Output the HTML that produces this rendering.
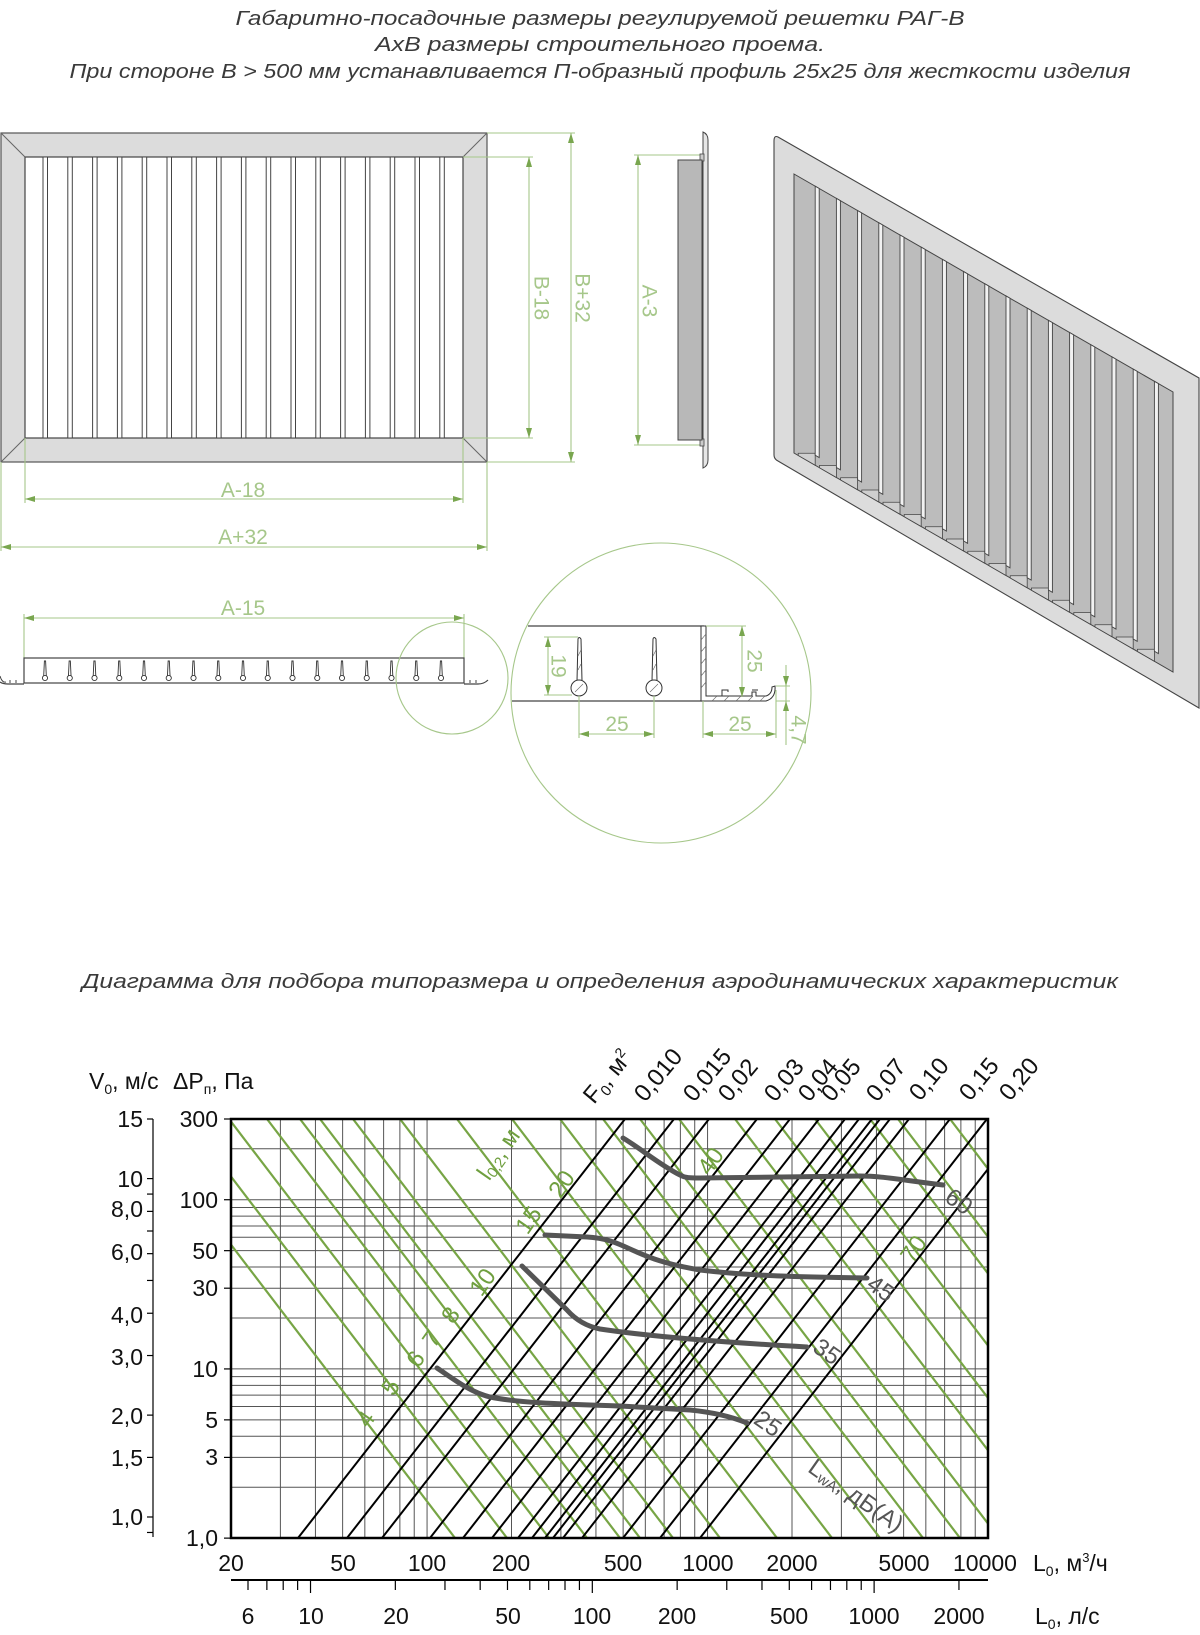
<!DOCTYPE html>
<html><head><meta charset="utf-8">
<style>
html,body{margin:0;padding:0;background:#fff;}
svg{display:block;}
.ti{font-family:"Liberation Sans",sans-serif;font-style:italic;fill:#3a3a3a;font-size:20px;}
.dm{font-family:"Liberation Sans",sans-serif;fill:#a6c78a;font-size:21px;}
.ax{font-family:"Liberation Sans",sans-serif;fill:#111;font-size:23px;}
.fa{font-family:"Liberation Sans",sans-serif;fill:#111;font-size:24px;}
.gr{font-family:"Liberation Sans",sans-serif;fill:#6f9f3f;font-size:24px;}
.gy{font-family:"Liberation Sans",sans-serif;fill:#555;font-size:24px;}
</style></head>
<body>
<svg id="s" width="1200" height="1635" viewBox="0 0 1200 1635" xmlns="http://www.w3.org/2000/svg">
<defs>
<marker id="ar" viewBox="0 0 10 6" refX="10" refY="3" markerWidth="10" markerHeight="6" orient="auto-start-reverse" markerUnits="userSpaceOnUse">
<path d="M0,0 L10,3 L0,6 z" fill="#79a64f"/></marker>
<clipPath id="box"><rect x="231" y="1119" width="757" height="419"/></clipPath>
</defs>

<text class="ti" x="600" y="25" text-anchor="middle" textLength="729" lengthAdjust="spacingAndGlyphs">Габаритно-посадочные размеры регулируемой решетки РАГ-В</text>
<text class="ti" x="600" y="51" text-anchor="middle" textLength="450" lengthAdjust="spacingAndGlyphs">АхВ размеры строительного проема.</text>
<text class="ti" x="600" y="78" text-anchor="middle" textLength="1061" lengthAdjust="spacingAndGlyphs">При стороне В &gt; 500 мм устанавливается П-образный профиль 25х25 для жесткости изделия</text>
<text class="ti" x="600" y="988" text-anchor="middle" textLength="1036" lengthAdjust="spacingAndGlyphs">Диаграмма для подбора типоразмера и определения аэродинамических характеристик</text>

<rect x="1" y="133" width="486" height="329" fill="#dcdcdc" stroke="#555" stroke-width="1.2"/>
<rect x="25" y="157" width="438" height="281" fill="#fff" stroke="#444" stroke-width="1.2"/>
<path d="M1,133 L25,157 M487,133 L463,157 M1,462 L25,438 M487,462 L463,438" stroke="#666" stroke-width="1"/>
<g id="fslats"></g>
<g stroke="#a6c78a" stroke-width="1.1" fill="none">
<path d="M463,157 H533 M463,438 H533 M487,133 H575 M487,462 H575 M25,438 V503 M463,438 V503 M1,462 V551 M487,462 V551"/>
<line x1="529" y1="157" x2="529" y2="438" marker-start="url(#ar)" marker-end="url(#ar)"/>
<line x1="571" y1="133" x2="571" y2="462" marker-start="url(#ar)" marker-end="url(#ar)"/>
<line x1="25" y1="499" x2="463" y2="499" marker-start="url(#ar)" marker-end="url(#ar)"/>
<line x1="1" y1="547" x2="487" y2="547" marker-start="url(#ar)" marker-end="url(#ar)"/>
<path d="M700,155 H634 M700,445 H634"/>
<line x1="638" y1="155" x2="638" y2="445" marker-start="url(#ar)" marker-end="url(#ar)"/>
<path d="M24,658 V614 M464,658 V614"/>
<line x1="24" y1="618" x2="464" y2="618" marker-start="url(#ar)" marker-end="url(#ar)"/>
</g>
<text class="dm" transform="translate(540,298) rotate(90)" text-anchor="middle" dominant-baseline="middle">B-18</text>
<text class="dm" transform="translate(581,298) rotate(90)" text-anchor="middle" dominant-baseline="middle">B+32</text>
<text class="dm" transform="translate(648,301) rotate(90)" text-anchor="middle" dominant-baseline="middle">A-3</text>
<text class="dm" x="243" y="497" text-anchor="middle">A-18</text>
<text class="dm" x="243" y="544" text-anchor="middle">A+32</text>
<text class="dm" x="243" y="615" text-anchor="middle">A-15</text>

<path d="M703,132 Q708,134 708,140 V460 Q708,466 703,468 Z" fill="#e6e6e6" stroke="#444" stroke-width="1"/>
<rect x="700" y="154" width="4" height="7" fill="#ccc" stroke="#444" stroke-width="0.8"/>
<rect x="700" y="439" width="4" height="7" fill="#ccc" stroke="#444" stroke-width="0.8"/>
<rect x="678" y="160" width="24" height="280" fill="#b8b8b8" stroke="#444" stroke-width="1"/>

<path d="M778,137 L1199,378 L1199,708 L778,461 Q774,459 774,455 V141 Q774,135 778,137 Z" fill="#dcdcdc" stroke="#444" stroke-width="1.1"/>
<path d="M794,174 L1173,392 L1173,672 L794,453 Z" fill="#bcbcbc" stroke="#444" stroke-width="1"/>
<g id="pslats"></g>

<rect x="24" y="658" width="440" height="25" fill="#fff" stroke="#444" stroke-width="1.2"/>
<path d="M0,682 Q3,684 8,684 H24 M464,684 H478 Q484,684 488,680" stroke="#444" stroke-width="1.2" fill="none"/>
<path d="M0,676 Q2,683 6,682 M10,680 V683 M16,680 V683 M470,680 V683 M476,680 V683" stroke="#444" stroke-width="1" fill="none"/>
<g id="pfins"></g>
<circle cx="452" cy="678" r="56" fill="none" stroke="#a6c78a" stroke-width="1.1"/>

<circle cx="661" cy="693" r="150" fill="none" stroke="#a6c78a" stroke-width="1.1"/>
<path d="M528,626 H704 M512,701 H703" stroke="#444" stroke-width="1.2" fill="none"/>
<g stroke="#333" stroke-width="1" fill="#fff">
<path d="M577,681 L578,639 Q579,636 581,639 L582,681 Z"/>
<circle cx="579" cy="688" r="8"/>
<path d="M652,681 L653,639 Q654,636 656,639 L657,681 Z"/>
<circle cx="654" cy="688" r="8"/>
<path d="M701,626 H706 V696 H752 V692 H756 V696 H766 Q772,694 772,687 L775,686 Q776,698 766,701 H701 Z"/>
<path d="M722,696 V690 H728 V692 M752,690 H758"/>
</g>
<g stroke="#666" stroke-width="0.6">
<path d="M701,640 L706,634 M701,652 L706,646 M701,664 L706,658 M701,676 L706,670 M701,688 L706,682 M712,701 L717,696 M724,701 L729,696 M736,701 L741,696 M748,701 L753,696 M760,701 L765,696 M575,692 L583,684 M650,692 L658,684 M578,670 L581,664 M578,656 L581,650 M653,670 L656,664 M653,656 L656,650"/>
</g>
<g stroke="#a6c78a" stroke-width="1.1" fill="none">
<path d="M544,637 H578 M544,695 H572 M706,626 H746 M579,696 V738 M654,696 V738 M703,701 V738 M776,690 V738 M776,686 H790 M776,701 H790"/>
<line x1="548" y1="637" x2="548" y2="695" marker-start="url(#ar)" marker-end="url(#ar)"/>
<line x1="742" y1="626" x2="742" y2="697" marker-start="url(#ar)" marker-end="url(#ar)"/>
<line x1="579" y1="734" x2="654" y2="734" marker-start="url(#ar)" marker-end="url(#ar)"/>
<line x1="703" y1="734" x2="776" y2="734" marker-start="url(#ar)" marker-end="url(#ar)"/>
<line x1="786" y1="665" x2="786" y2="686" marker-end="url(#ar)"/>
<line x1="786" y1="722" x2="786" y2="701" marker-end="url(#ar)"/>
<path d="M786,686 V701 M786,722 V745"/>
</g>
<text class="dm" transform="translate(557,666) rotate(90)" text-anchor="middle" dominant-baseline="middle">19</text>
<text class="dm" transform="translate(753,661) rotate(90)" text-anchor="middle" dominant-baseline="middle">25</text>
<text class="dm" x="617" y="731" text-anchor="middle">25</text>
<text class="dm" x="740" y="731" text-anchor="middle">25</text>
<text class="dm" transform="translate(797,730) rotate(90)" text-anchor="middle" dominant-baseline="middle">4,7</text>

<g id="grid" stroke="#555" stroke-width="1"></g>
<g id="green" clip-path="url(#box)" stroke="#77a545" stroke-width="2.2"></g>
<g id="black" clip-path="url(#box)" stroke="#000" stroke-width="2"></g>
<g fill="none" stroke="#555" stroke-width="5" stroke-linecap="round">
<path d="M623,1138 C640,1148 660,1165 680,1175 C685,1178 690,1178 700,1178 L860,1176 C880,1176 895,1179 943,1185"/>
<path d="M545,1235 L587,1237 C605,1238 615,1242 630,1249 C650,1258 665,1264 700,1270 C750,1276 800,1277 867,1278"/>
<path d="M522,1266 L567,1310 C575,1319 585,1326 600,1329 C640,1335 700,1341 807,1347"/>
<path d="M437,1368 C455,1380 470,1392 490,1397 C520,1403 560,1404 620,1406 L690,1410 C710,1412 730,1416 747,1423"/>
</g>
<rect x="231" y="1119" width="757" height="419" fill="none" stroke="#000" stroke-width="2.5"/>
<g id="ticks" stroke="#000" stroke-width="1.2"></g>

<text class="ax" x="89" y="1089">V<tspan font-size="14" dy="5">0</tspan><tspan dy="-5">, м/с</tspan></text>
<text class="ax" x="173" y="1089">ΔP<tspan font-size="14" dy="5">п</tspan><tspan dy="-5">, Па</tspan></text>
<g class="ax" text-anchor="end">
<text x="218" y="1127">300</text><text x="218" y="1208">100</text><text x="218" y="1259">50</text><text x="218" y="1296">30</text>
<text x="218" y="1377">10</text><text x="218" y="1428">5</text><text x="218" y="1465">3</text><text x="218" y="1546">1,0</text>
<text x="143" y="1127">15</text><text x="143" y="1187">10</text><text x="143" y="1217">8,0</text><text x="143" y="1260">6,0</text>
<text x="143" y="1323">4,0</text><text x="143" y="1365">3,0</text><text x="143" y="1424">2,0</text><text x="143" y="1466">1,5</text><text x="143" y="1525">1,0</text>
</g>
<g class="ax" text-anchor="middle">
<text x="231" y="1571">20</text><text x="343" y="1571">50</text><text x="427" y="1571">100</text><text x="511" y="1571">200</text>
<text x="623" y="1571">500</text><text x="708" y="1571">1000</text><text x="792" y="1571">2000</text><text x="904" y="1571">5000</text><text x="985" y="1571">10000</text>
<text x="248" y="1624">6</text><text x="311" y="1624">10</text><text x="396" y="1624">20</text><text x="508" y="1624">50</text><text x="592" y="1624">100</text>
<text x="677" y="1624">200</text><text x="789" y="1624">500</text><text x="874" y="1624">1000</text><text x="959" y="1624">2000</text>
</g>
<text class="ax" x="1033" y="1571">L<tspan font-size="14" dy="5">0</tspan><tspan dy="-5">, м</tspan><tspan font-size="13" dy="-9">3</tspan><tspan dy="9">/ч</tspan></text>
<text class="ax" x="1035" y="1624">L<tspan font-size="14" dy="5">0</tspan><tspan dy="-5">, л/с</tspan></text>

<g class="fa">
<text transform="translate(594,1105) rotate(-50)">F<tspan font-size="15" dy="5">0</tspan><tspan dy="-5">, м</tspan><tspan font-size="14" dy="-9">2</tspan></text>
<text transform="translate(645,1103) rotate(-50)">0,010</text>
<text transform="translate(694,1103) rotate(-50)">0,015</text>
<text transform="translate(729,1103) rotate(-50)">0,02</text>
<text transform="translate(775,1103) rotate(-50)">0,03</text>
<text transform="translate(809,1103) rotate(-50)">0,04</text>
<text transform="translate(832,1103) rotate(-50)">0,05</text>
<text transform="translate(877,1103) rotate(-50)">0,07</text>
<text transform="translate(920,1102) rotate(-50)">0,10</text>
<text transform="translate(970,1102) rotate(-50)">0,15</text>
<text transform="translate(1010,1102) rotate(-50)">0,20</text>
</g>

<g class="gr" text-anchor="middle" dominant-baseline="middle">
<text transform="translate(367,1420) rotate(-55)">4</text>
<text transform="translate(392,1388) rotate(-55)">5</text>
<text transform="translate(417,1360) rotate(-55)">6</text>
<text transform="translate(433,1340) rotate(-55)">7</text>
<text transform="translate(452,1316) rotate(-55)">8</text>
<text transform="translate(484,1283) rotate(-55)">10</text>
<text transform="translate(530,1221) rotate(-55)">15</text>
<text transform="translate(563,1185) rotate(-55)">20</text>
<text transform="translate(712,1162) rotate(-55)">40</text>
<text transform="translate(915,1250) rotate(-55)">70</text>
<text transform="translate(500,1155) rotate(-55)">l<tspan font-size="15" dy="5">0,2</tspan><tspan dy="-5">, м</tspan></text>
</g>
<g class="gy" text-anchor="middle" dominant-baseline="middle">
<text transform="translate(958,1203) rotate(35)">60</text>
<text transform="translate(880,1290) rotate(35)">45</text>
<text transform="translate(826,1353) rotate(35)">35</text>
<text transform="translate(767,1425) rotate(35)">25</text>
<text transform="translate(855,1497) rotate(35)">L<tspan font-size="15" dy="5">wA</tspan><tspan dy="-5">, дБ(А)</tspan></text>
</g>
</svg>
<script>
(function(){
var NS="http://www.w3.org/2000/svg";
function el(p,tag,a){var e=document.createElementNS(NS,tag);for(var k in a)e.setAttribute(k,a[k]);p.appendChild(e);return e;}
function L(p,x1,y1,x2,y2,extra){var a={x1:x1,y1:y1,x2:x2,y2:y2};if(extra)for(var k in extra)a[k]=extra[k];return el(p,'line',a);}
var fs=document.getElementById('fslats');
for(var i=0;i<17;i++){var x=43+24.8*i;el(fs,'rect',{x:x,y:157,width:4.5,height:281,fill:'#fff',stroke:'#444','stroke-width':1});}
var ps=document.getElementById('pslats');
function yt(x){return 174+(x-794)*218/379;}
function yb(x){return 453+(x-794)*219/379;}
for(var i=0;i<18;i++){
 var x=794+21.2*(i+1); if(x>1170)break;
 el(ps,'polygon',{points:(x-17)+','+(yb(x)-12)+' '+x+','+(yb(x)-12)+' '+x+','+yb(x)+' '+(x-17)+','+yb(x-17),fill:'#cfcfcf',stroke:'#444','stroke-width':0.8});
 el(ps,'polygon',{points:x+','+yt(x)+' '+(x+4)+','+yt(x+4)+' '+(x+4)+','+(yb(x+4)-10)+' '+x+','+(yb(x)-10),fill:'#f2f2f2',stroke:'#444','stroke-width':0.9});
}
var pf=document.getElementById('pfins');
for(var i=0;i<17;i++){var x=45+24.75*i;
 el(pf,'path',{d:'M'+(x-1.3)+',676 L'+(x-0.6)+',661 L'+(x+0.6)+',661 L'+(x+1.3)+',676 Z',fill:'#fff',stroke:'#333','stroke-width':0.9});
 el(pf,'circle',{cx:x,cy:678,r:2.6,fill:'#fff',stroke:'#333','stroke-width':0.9});}
var g=document.getElementById('grid');
function X(v){return 231+280.5*Math.log10(v/20);}
function Y(p){return 1119+169.2*Math.log10(300/p);}
var xs=[];for(var d=10;d<=1000;d*=10)for(var m=1;m<=9;m++){var v=m*d;if(v>=20&&v<=10000)xs.push(v);}xs.push(10000);
xs.forEach(function(v){var x=X(v);L(g,x,1119,x,1538);});
var ys=[];[1,10].forEach(function(d){for(var m=1;m<=9;m++)ys.push(m*d);});ys.push(100,200,300);
ys.forEach(function(p){var y=Y(p);L(g,231,y,988,y);});
var gr=document.getElementById('green');
[135,187,229,267,300,320,353,400,457,512,560,603,640,679,735,775,815,870,898,950,990].forEach(function(xt){
 L(gr,xt,1119,xt+320,1538);});
var bk=document.getElementById('black');
[298,347,382,430,463,492,518,532,545,553,563,582,623,660,700].forEach(function(xb){L(bk,xb,1538,xb+327,1119);});
var t=document.getElementById('ticks');
[300,100,50,30,10,5,3,1].forEach(function(p){L(t,224,Y(p),231,Y(p));});
L(t,153,1119,153,1537);
function YV(v){return 1119+338.4*Math.log10(15/v);}
[15,10,9,8,7,6,5,4,3,2,1.5,1,0.9].forEach(function(v){var y=YV(v);L(t,147,y,153,y);});
L(t,231,1580,988,1580,{'stroke-width':2});
function XL(l){return 248+281.8*Math.log10(l/6);}
var ls=[6,7,8,9];[10,100].forEach(function(d){for(var m=1;m<=9;m++)ls.push(m*d);});ls.push(1000,2000);
ls.forEach(function(l){var x=XL(l);var big=[10,100,1000].indexOf(l)>=0;L(t,x,1580,x,big?1593:1590);});
})();
</script>
</body></html>
